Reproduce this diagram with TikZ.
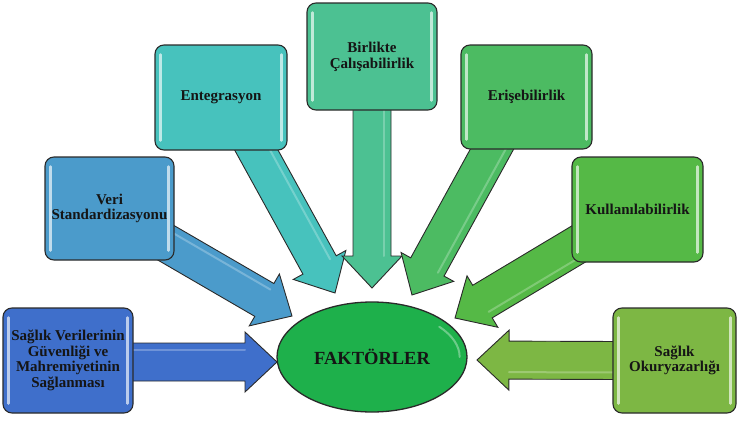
\documentclass[tikz,border=0pt]{standalone}
\usepackage{fontspec}
\setmainfont{Liberation Serif}[BoldFont={Liberation Serif Bold}]
\newfontfamily\tnr{Liberation Serif}[BoldFont={Liberation Serif Bold}]
\usetikzlibrary{calc,shapes.geometric}
\pgfdeclarelayer{bg}
\pgfsetlayers{bg,main}
\definecolor{cA}{HTML}{3F6FCB}
\definecolor{cB}{HTML}{4B9BCB}
\definecolor{cC}{HTML}{47C2BD}
\definecolor{cD}{HTML}{4CC192}
\definecolor{cE}{HTML}{4CBB62}
\definecolor{cF}{HTML}{55B946}
\definecolor{cG}{HTML}{7DB744}
\definecolor{cH}{HTML}{1EB04B}
\definecolor{edge}{HTML}{2A2A2A}
\definecolor{ink}{HTML}{151515}
\tikzset{
  box/.style={draw=edge, line width=1.1pt, rounded corners=9pt, align=center, text=ink,
    font=\tnr\bfseries\fontsize{15}{15.7}\selectfont, inner sep=1pt,
    minimum width=130pt, minimum height=105pt},
  hl/.style={white, opacity=0.65, line width=2.4pt, line cap=round},
  arrowline/.style={draw=edge, line width=0.9pt, line join=miter},
  ahl/.style={white, opacity=0.25, line width=2pt, line cap=round},
}
\newcommand\hlbox[1]{%
  \draw[hl] ([xshift=6pt,yshift=-10pt]#1.north west) -- ([xshift=6pt,yshift=10pt]#1.south west);
  \draw[hl] ([xshift=-6pt,yshift=-10pt]#1.north east) -- ([xshift=-6pt,yshift=10pt]#1.south east);}
\newcommand\fatarr[3]{%
  \coordinate (#2h) at ($(#2)!32pt!(#1)$);
  \draw[arrowline, fill=#3] ($(#1)!19pt!90:(#2)$) -- ($(#2h)!19pt!90:(#2)$)
    -- ($(#2h)!30pt!90:(#2)$) -- (#2) -- ($(#2h)!30pt!-90:(#2)$)
    -- ($(#2h)!19pt!-90:(#2)$) -- ($(#1)!19pt!-90:(#2)$) -- cycle;
  \draw[ahl] ($(#1)!12pt!90:(#2)$) -- ($(#2h)!12pt!90:(#2)$);}
\begin{document}
\begin{tikzpicture}[x=1pt,y=-1pt]
\useasboundingbox (0,0) rectangle (737,426);
% centre
\node[ellipse, draw=edge, line width=1.3pt, fill=cH, minimum width=190pt, minimum height=110pt,
  text=ink, font=\tnr\bfseries\fontsize{18.5}{21}\selectfont] (f) at (372,357) {FAKTÖRLER};
\draw[white, opacity=0.35, line width=2pt, line cap=round]
  ([shift={(-8pt,0pt)}]f.east) arc[start angle=0, end angle=40, x radius=87pt, y radius=47pt];
% boxes
\node[box, fill=cA, minimum width=130pt] (b1) at (68,360.5)
  {Sağlık Verilerinin\\Güvenliği ve\\Mahremiyetinin\\Sağlanması};
\node[box, fill=cB, minimum width=129pt, minimum height=103pt] (b2) at (109.5,208.5)
  {Veri\\Standardizasyonu};
\node[box, fill=cC, minimum width=132pt] (b3) at (221,97.5) {Entegrasyon};
\node[box, fill=cD, minimum height=107pt] (b4) at (372,56.5) {Birlikte\\Çalışabilirlik};
\node[box, fill=cE, minimum width=131pt, minimum height=104pt] (b5) at (526.5,97) {Erişebilirlik};
\node[box, fill=cF, minimum width=131pt] (b6) at (637.5,209.5) {Kullanılabilirlik};
\node[box, fill=cG, minimum width=123pt] (b7) at (674.5,360.5) {Sağlık\\Okuryazarlığı};
\foreach \b in {b1,b2,b3,b4,b5,b6,b7} {\hlbox{\b}}
% arrow ends
\coordinate (s1) at ([xshift=-6pt,yshift=-1.5pt]b1.east);
\coordinate (t1) at (277,362);
\coordinate (s2) at ([xshift=-16pt,yshift=-30pt]b2.east);
\coordinate (t2) at (292,316);
\coordinate (s3) at ([xshift=29pt,yshift=12pt]b3.south);
\coordinate (t3) at (335,293);
\coordinate (s4) at ([yshift=6pt]b4.south);
\coordinate (t4) at (372,288);
\coordinate (s5) at ([xshift=-26.5pt,yshift=15pt]b5.south);
\coordinate (t5) at (412,295);
\coordinate (s6) at ([xshift=23pt,yshift=-25pt]b6.west);
\coordinate (t6) at (455,318);
\coordinate (s7) at ([xshift=6pt]b7.west);
\coordinate (t7) at (477,360);
\begin{pgfonlayer}{bg}
\fatarr{s1}{t1}{cA}
\fatarr{s2}{t2}{cB}
\fatarr{s3}{t3}{cC}
\fatarr{s4}{t4}{cD}
\fatarr{s5}{t5}{cE}
\fatarr{s6}{t6}{cF}
\fatarr{s7}{t7}{cG}
\end{pgfonlayer}
\end{tikzpicture}
\end{document}
